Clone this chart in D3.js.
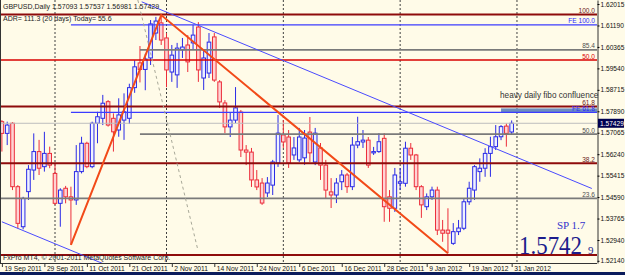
<!DOCTYPE html>
<html><head><meta charset="utf-8">
<script src="https://cdn.jsdelivr.net/npm/d3@7"></script>
<style>body{margin:0;background:#fffbe8;}svg{display:block}</style>
</head><body><svg id="c" width="625" height="275"></svg>
<script>
const dates = [
"2011-09-19","2011-09-20","2011-09-21","2011-09-22","2011-09-23","2011-09-26","2011-09-27","2011-09-28","2011-09-29","2011-09-30",
"2011-10-03","2011-10-04","2011-10-05","2011-10-06","2011-10-07","2011-10-10","2011-10-11","2011-10-12","2011-10-13","2011-10-14",
"2011-10-17","2011-10-18","2011-10-19","2011-10-20","2011-10-21","2011-10-24","2011-10-25","2011-10-26","2011-10-27","2011-10-28","2011-10-31",
"2011-11-01","2011-11-02","2011-11-03","2011-11-04","2011-11-07","2011-11-08","2011-11-09","2011-11-10","2011-11-11","2011-11-14",
"2011-11-15","2011-11-16","2011-11-17","2011-11-18","2011-11-21","2011-11-22","2011-11-23","2011-11-24","2011-11-25","2011-11-28","2011-11-29","2011-11-30",
"2011-12-01","2011-12-02","2011-12-05","2011-12-06","2011-12-07","2011-12-08","2011-12-09","2011-12-12","2011-12-13","2011-12-14","2011-12-15","2011-12-16",
"2011-12-19","2011-12-20","2011-12-21","2011-12-22","2011-12-23","2011-12-26","2011-12-27","2011-12-28","2011-12-29","2011-12-30",
"2012-01-02","2012-01-03","2012-01-04","2012-01-05","2012-01-06","2012-01-09","2012-01-10","2012-01-11","2012-01-12","2012-01-13",
"2012-01-16","2012-01-17","2012-01-18","2012-01-19","2012-01-20","2012-01-23","2012-01-24","2012-01-25","2012-01-26","2012-01-27","2012-01-30","2012-01-31"];
const open = [1.5749,1.5704,1.5743,1.5499,1.5345,1.5480,1.5563,1.5634,1.5576,1.5627,
1.5550,1.5435,1.5493,1.5460,1.5448,1.5557,1.5666,1.5576,1.5743,1.5762,
1.5826,1.5762,1.5717,1.5755,1.5762,1.5880,1.5975,1.5950,1.5994,1.6090,1.6129,
1.6071,1.5940,1.5929,1.6025,1.6044,1.6052,1.6113,1.5917,1.5936,1.6075,
1.5902,1.5821,1.5729,1.5755,1.5786,1.5640,1.5632,1.5525,1.5513,1.5475,1.5505,1.5590,
1.5698,1.5690,1.5621,1.5602,1.5610,1.5709,1.5594,1.5648,1.5582,1.5479,1.5467,1.5518,
1.5544,1.5499,1.5659,1.5671,1.5678,1.5629,1.5634,1.5685,1.5460,1.5416,
1.5512,1.5512,1.5647,1.5621,1.5499,1.5422,1.5460,1.5486,1.5332,1.5332,
1.5281,1.5326,1.5339,1.5441,1.5486,1.5557,1.5570,1.5627,1.5653,1.5691,1.5732,1.57093];
const high = [1.5755,1.5749,1.5747,1.5505,1.5460,1.5582,1.5704,1.5679,1.5710,1.5653,
1.5589,1.5493,1.5502,1.5499,1.5659,1.5691,1.5672,1.5749,1.5787,1.5852,
1.5832,1.5781,1.5839,1.5858,1.5895,1.5985,1.6040,1.6010,1.6140,1.6152,1.6159,
1.6090,1.6044,1.6052,1.6071,1.6082,1.6121,1.6132,1.6025,1.6090,1.6090,
1.5909,1.5832,1.5786,1.5882,1.5794,1.5659,1.5648,1.5563,1.5532,1.5536,1.5602,1.5775,
1.5755,1.5717,1.5690,1.5725,1.5717,1.5767,1.5725,1.5667,1.5602,1.5532,1.5532,1.5563,
1.5552,1.5690,1.5768,1.5717,1.5690,1.5652,1.5705,1.5705,1.5486,1.5571,
1.5571,1.5672,1.5667,1.5625,1.5505,1.5473,1.5499,1.5499,1.5371,1.5416,
1.5359,1.5371,1.5455,1.5518,1.5582,1.5608,1.5647,1.5691,1.5736,1.5736,1.5743,1.57537];
const low = [1.5634,1.5659,1.5486,1.5339,1.5335,1.5448,1.5525,1.5544,1.5557,1.5570,
1.5429,1.5345,1.5435,1.5275,1.5429,1.5550,1.5570,1.5570,1.5666,1.5736,
1.5730,1.5634,1.5691,1.5679,1.5740,1.5860,1.5900,1.5870,1.5967,1.6063,1.6044,
1.5882,1.5902,1.5879,1.5994,1.5940,1.6025,1.5902,1.5871,1.5917,1.5902,
1.5802,1.5705,1.5690,1.5744,1.5613,1.5582,1.5498,1.5486,1.5429,1.5459,1.5467,1.5575,
1.5648,1.5571,1.5602,1.5594,1.5583,1.5594,1.5582,1.5525,1.5455,1.5417,1.5436,1.5486,
1.5475,1.5486,1.5647,1.5648,1.5571,1.5621,1.5629,1.5364,1.5364,1.5402,
1.5486,1.5499,1.5602,1.5486,1.5379,1.5409,1.5448,1.5313,1.5287,1.5243,
1.5275,1.5313,1.5332,1.5429,1.5448,1.5518,1.5537,1.5537,1.5640,1.5678,1.5653,1.56981];
const close = [1.5704,1.5736,1.5499,1.5358,1.5454,1.5566,1.5634,1.5570,1.5627,1.5582,
1.5435,1.5486,1.5460,1.5448,1.5557,1.5666,1.5576,1.5743,1.5768,1.5820,
1.5736,1.5710,1.5775,1.5787,1.5880,1.5960,1.5950,1.5990,1.6125,1.6136,1.6063,
1.5948,1.6005,1.6032,1.6036,1.5979,1.6082,1.5948,1.5994,1.6055,1.5909,
1.5825,1.5729,1.5755,1.5802,1.5640,1.5632,1.5525,1.5498,1.5436,1.5513,1.5594,1.5705,
1.5671,1.5590,1.5648,1.5690,1.5686,1.5629,1.5705,1.5582,1.5486,1.5467,1.5513,1.5544,
1.5499,1.5659,1.5672,1.5678,1.5582,1.5634,1.5672,1.5422,1.5416,1.5544,
1.5518,1.5647,1.5621,1.5499,1.5429,1.5460,1.5486,1.5332,1.5320,1.5320,
1.5326,1.5340,1.5441,1.5493,1.5576,1.5570,1.5627,1.5653,1.5691,1.5730,1.5704,1.57429];

const tickDates = ["2011-09-19","2011-09-29","2011-10-11","2011-10-21","2011-11-02","2011-11-14","2011-11-24","2011-12-06","2011-12-16","2011-12-28","2012-01-09","2012-01-19","2012-01-31"];
const priceTicks = [1.62015,1.61190,1.60365,1.59540,1.58715,1.57890,1.57065,1.56240,1.55415,1.54590,1.53765,1.52940,1.52140];
const priceMin = 1.52055, priceMax = 1.6217;

// horizontal fibo / expansion levels
const levelPrices = [1.6161,1.6121,1.6025,1.5986,1.5807,1.5785,1.5701,1.5589,1.5454,1.5236];
const levelLabels = ["100.0","FE 100.0","85.4","50.0","61.8","FE 61.8","50.0","38.2","23.6",""];
const levelKinds  = ["fibo","fe","gray","red","fibo","fe","gray","fibo","gray","fibo"];
const levelStartDates = ["","2011-10-06","2011-10-25","","","2011-10-06","2011-10-25","","",""];

// trend lines: [bar index, price]
const zigzag = [[13, low[13]],[30, high[30]],[84, low[84]]];
const channelUpper = [[26.33, 1.6210],[111.1, 1.5492]];
const channelLower = [[0, 1.5364],[20, 1.5195]];
const dashedLine = [[25.6, 1.6217],[36.9, 1.5256]];
const zone = {start: 94, top: 1.5800, bottom: 1.5785};
const adrText = "ADR= 111.3  (20 days) Today= 55.6";
const spreadText = "SP 1.7";

const PR = 597, PB = 263;
const svg = d3.select("#c");
svg.append("rect").attr("width",625).attr("height",275).attr("fill","#fffbe8");
svg.append("rect").attr("x",0).attr("y",272).attr("width",625).attr("height",3).attr("fill","#0b1c5c");

const x = d3.scaleLinear().domain([0, dates.length-1]).range([1.9, 1.9 + 5.31*(dates.length-1)]);
const y = d3.scaleLinear().domain([priceMin, priceMax]).range([PB, 0]);

svg.append("defs").append("clipPath").attr("id","clip").append("rect").attr("x",0).attr("y",0).attr("width",PR).attr("height",PB);
const g = svg.append("g").attr("clip-path","url(#clip)");

// month separators
const sepIdx = [];
for (let i=1;i<dates.length;i++) if (dates[i].slice(5,7)!==dates[i-1].slice(5,7)) sepIdx.push(i);
sepIdx.push(dates.length);
g.selectAll(".sep").data(sepIdx).join("line").attr("x1",d=>x(d)).attr("x2",d=>x(d)).attr("y1",0).attr("y2",PB)
 .attr("stroke","#404040").attr("stroke-width",1).attr("stroke-dasharray","2,2");

// candles
const idx = d3.range(dates.length);
const up = i => close[i] >= open[i];
g.selectAll(".wick").data(idx).join("line").attr("x1",i=>x(i)).attr("x2",i=>x(i))
 .attr("y1",i=>y(high[i])).attr("y2",i=>y(low[i])).attr("stroke",i=>up(i)?"#2a2ae6":"#ec2d3a").attr("stroke-width",1);
g.selectAll(".body").data(idx).join("rect").attr("x",i=>x(i)-1.8).attr("width",3.6)
 .attr("y",i=>y(Math.max(open[i],close[i]))).attr("height",i=>Math.max(1,Math.abs(y(open[i])-y(close[i]))))
 .attr("fill",i=>up(i)?"#eef1ff":"#ffd3d3").attr("stroke",i=>up(i)?"#2a2ae6":"#ec2d3a").attr("stroke-width",1);

// bid line
g.append("line").attr("x1",0).attr("x2",PR).attr("y1",y(close[close.length-1])).attr("y2",y(close[close.length-1])).attr("stroke","#bdbdbd").attr("stroke-width",1);

// zone
g.append("rect").attr("x",x(zone.start)).attr("width",PR-x(zone.start)).attr("y",y(zone.top)).attr("height",y(zone.bottom)-y(zone.top)).attr("fill","#6d8dbd");

// levels
const styles = {fibo:{c:"#8e0b0b",w:2,t:"#6a1a1a"}, red:{c:"#d80000",w:1.5,t:"#dd0000"}, gray:{c:"#7a7a7a",w:1.6,t:"#505050"}, fe:{c:"#3c3cff",w:1.2,t:"#2a2aff"}};
levelPrices.forEach((p,i)=>{
  const st = styles[levelKinds[i]];
  const sd = levelStartDates[i];
  const x0 = sd ? x(dates.indexOf(sd)) : 0;
  g.append("line").attr("x1",x0).attr("x2",PR).attr("y1",y(p)).attr("y2",y(p)).attr("stroke",st.c).attr("stroke-width",st.w);
});

// trend lines
const line = d3.line().x(d=>x(d[0])).y(d=>y(d[1]));
g.append("path").attr("d",line(channelUpper)).attr("fill","none").attr("stroke","#4a4aff").attr("stroke-width",1);
g.append("path").attr("d",line(channelLower)).attr("fill","none").attr("stroke","#4a4aff").attr("stroke-width",1);
g.append("path").attr("d",line(dashedLine)).attr("fill","none").attr("stroke","#a8a898").attr("stroke-width",1).attr("stroke-dasharray","3,3");
g.append("path").attr("d",line(zigzag)).attr("fill","none").attr("stroke","#f24a18").attr("stroke-width",2);

// level labels
const FONT = "Liberation Sans, Arial, sans-serif";
levelPrices.forEach((p,i)=>{
  if(!levelLabels[i]) return;
  svg.append("text").attr("x",595).attr("y",y(p)-1.5).attr("text-anchor","end").attr("font-family",FONT).attr("font-size",6.6)
   .attr("fill",styles[levelKinds[i]].t).text(levelLabels[i]);
});
svg.append("text").attr("x",x(zone.start)-1).attr("y",y(zone.top)-10).attr("font-family",FONT).attr("font-size",8.2).attr("fill","#333").text("heavy daily fibo confluence");

// frame
svg.append("line").attr("x1",0.5).attr("x2",0.5).attr("y1",0).attr("y2",PB).attr("stroke","#333");
svg.append("line").attr("x1",0).attr("x2",PR).attr("y1",PB+0.5).attr("y2",PB+0.5).attr("stroke","#333");

// axes
const yAxis = d3.axisRight(y).tickValues(priceTicks).tickFormat(d3.format(".5f")).tickSize(2).tickSizeOuter(0);
const ya = svg.append("g").attr("transform",`translate(${PR+0.5},0)`).call(yAxis);
ya.select(".domain").attr("stroke","#333");
ya.selectAll("text").attr("font-family",FONT).attr("font-size",6.6).attr("fill","#111").attr("x",3);

const parse = d3.timeParse("%Y-%m-%d"), fmt = d3.timeFormat("%-d %b %Y");
const xAxis = d3.axisBottom(x).tickValues(tickDates.map(d=>dates.indexOf(d))).tickFormat(i=>fmt(parse(dates[i]))).tickSize(4);
const xa = svg.append("g").attr("transform",`translate(0,${PB})`).call(xAxis);
xa.select(".domain").remove();
xa.selectAll("line").attr("stroke","#333");
xa.selectAll("text").attr("font-family",FONT).attr("font-size",6.7).attr("fill","#111").attr("text-anchor","start").attr("x",2).attr("y",3).attr("dy","0.71em");

// current price box
const last = close.length-1;
svg.append("rect").attr("x",PR+1).attr("y",y(close[last])-4.5).attr("width",26).attr("height",9).attr("fill","#000050");
svg.append("text").attr("x",PR+3).attr("y",y(close[last])+2.4).attr("font-family",FONT).attr("font-size",6.6).attr("fill","#fff").text(d3.format(".5f")(close[last]));

// header texts
const f5 = d3.format(".5f");
svg.append("text").attr("x",3).attr("y",9).attr("font-family",FONT).attr("font-size",7).attr("fill","#222")
 .text(`GBPUSD,Daily  ${f5(open[last])} ${f5(high[last])} ${f5(low[last])} ${f5(close[last])}`);
svg.append("text").attr("x",3).attr("y",21).attr("font-family",FONT).attr("font-size",7).attr("fill","#222").text(adrText);
svg.append("text").attr("x",3).attr("y",260).attr("font-family",FONT).attr("font-size",7).attr("fill","#222").text("FxPro MT4, © 2001-2011 MetaQuotes Software Corp.");

// price display
const SERIF = "Liberation Serif, Times New Roman, serif";
svg.append("text").attr("x",557).attr("y",229).attr("font-family",SERIF).attr("font-size",11).attr("fill","#3333cc").text(spreadText);
const pstr = f5(close[last]);
svg.append("text").attr("x",519).attr("y",254).attr("font-family",SERIF).attr("font-size",25).attr("fill","#1c1c8c")
 .attr("textLength",63).attr("lengthAdjust","spacingAndGlyphs").text(pstr.slice(0,6));
svg.append("text").attr("x",588).attr("y",254).attr("font-family",SERIF).attr("font-size",11).attr("fill","#1c1c8c").text(pstr.slice(6));
</script></body></html>
